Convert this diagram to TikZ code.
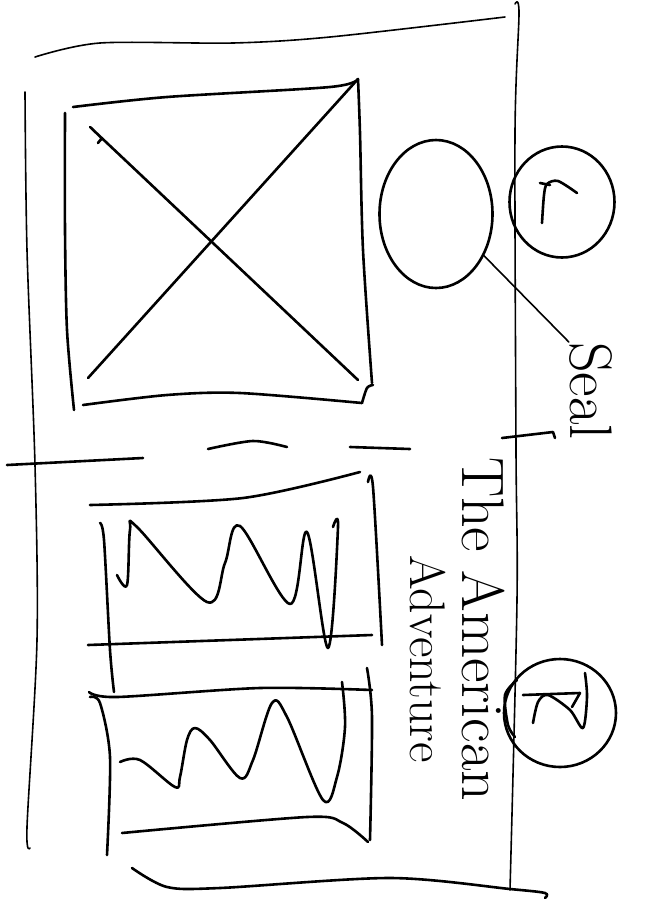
\documentclass[tikz,border=0pt]{standalone}
\usepackage{tikz}
\usetikzlibrary{shapes.geometric}

\begin{document}
\begin{tikzpicture}[x=1pt, y=-1pt,
  pen/.style={line width=2.6pt, line cap=round, line join=round},
  thinpen/.style={line width=1.6pt, line cap=round, line join=round},
  hand/.style={rotate=-90, anchor=base west, inner sep=0pt}]
\useasboundingbox (0,0) rectangle (658,903);
% page frame
\draw[thinpen] plot[smooth] coordinates {(35,57) (100,43) (233,43) (330,37) (505,17)};
\draw[thinpen] plot[smooth] coordinates {(515,4) (519,13) (515,133) (516,450) (517,600) (510,890)};
\draw[thinpen] plot[smooth] coordinates {(25,92) (27,250) (35,465) (37,640) (27,827) (30,848)};
\draw[pen] plot[smooth] coordinates {(132,868) (167,887) (220,888) (390,878) (510,889) (545,893) (545,898)};
% picture box with cross
\draw[pen] plot[smooth] coordinates {(73,107) (167,97) (330,87) (358,79)};
\draw[pen] plot[smooth] coordinates {(358,79) (360,133) (363,250) (372,383)};
\draw[pen] plot[smooth] coordinates {(373,385) (367,388) (362,403)};
\draw[pen] plot[smooth] coordinates {(83,405) (167,395) (240,393) (362,403)};
\draw[pen] plot[smooth] coordinates {(65,113) (65,230) (67,330) (74,410)};
\draw[pen] plot[smooth] coordinates {(98,143) (102,139) (107,143) (358,380)};
\draw[pen] (88,378) -- (358,79);
% divider
\draw[pen] (7,465) -- (143,458);
\draw[pen] plot[smooth] coordinates {(208,449) (253,441) (287,447)};
\draw[pen] (350,447) -- (410,449);
\draw[pen] (502,438) -- (553,432) -- (555,438);
% seal and logo
\node[ellipse, draw, pen, minimum width=113, minimum height=148] (oval) at (436,214) {};
\node[ellipse, draw, pen, minimum width=105, minimum height=111] (logo) at (562,202) {};
\draw[pen] plot[smooth] coordinates {(542,223) (544,195) (547,184) (558,181) (577,193)};
\draw[pen] (540,183) -- (550,185);
\node[hand, font=\fontsize{60}{60}\selectfont] (seal) at (570,342) {Seal};
\draw[thinpen] (oval.-41) -- (seal.south west);
% first wave box
\draw[pen] plot[smooth] coordinates {(90,505) (243,498) (360,472)};
\draw[pen] plot[smooth] coordinates {(368,482) (373,487) (382,645)};
\draw[pen] plot[smooth] coordinates {(100,523) (104,540) (110,650) (114,692)};
\draw[pen] (88,645) -- (372,635);
\draw[pen] plot[smooth, tension=.55] coordinates {(117,575) (127,585) (130,530) (137,527) (207,602) (225,563) (240,526) (290,604) (307,532) (328,648) (338,527) (333,527)};
% second wave box
\draw[pen] plot[smooth] coordinates {(89,692) (117,697) (260,688) (372,690)};
\draw[pen] plot[smooth] coordinates {(90,697) (100,703) (110,757) (107,855)};
\draw[pen] plot[smooth] coordinates {(367,668) (372,717) (370,840)};
\draw[pen] plot[smooth] coordinates {(122,833) (307,817) (343,823) (368,842)};
\draw[pen] plot[smooth, tension=.55] coordinates {(120,762) (140,760) (175,787) (180,777) (187,740) (195,728) (210,740) (240,778) (253,760) (272,703) (287,717) (323,800) (337,777) (345,727) (342,682)};
% title
\node[hand, font=\fontsize{60}{60}\selectfont] (title) at (462,457) {The American};
\node[hand, font=\fontsize{50}{50}\selectfont] (subtitle) at (410,555) {Adventure};
% registered mark
\node[ellipse, draw, pen, minimum width=112, minimum height=108] (reg) at (560,713) {};
\draw[pen] plot[smooth] coordinates {(517,680) (505,695) (508,725) (515,737)};
\draw[pen] (523,695) -- (580,693) -- (572,707);
\draw[pen] plot[smooth] coordinates {(533,723) (538,702) (548,695) (570,710) (583,728) (587,697) (585,673)};
\end{tikzpicture}
\end{document}
